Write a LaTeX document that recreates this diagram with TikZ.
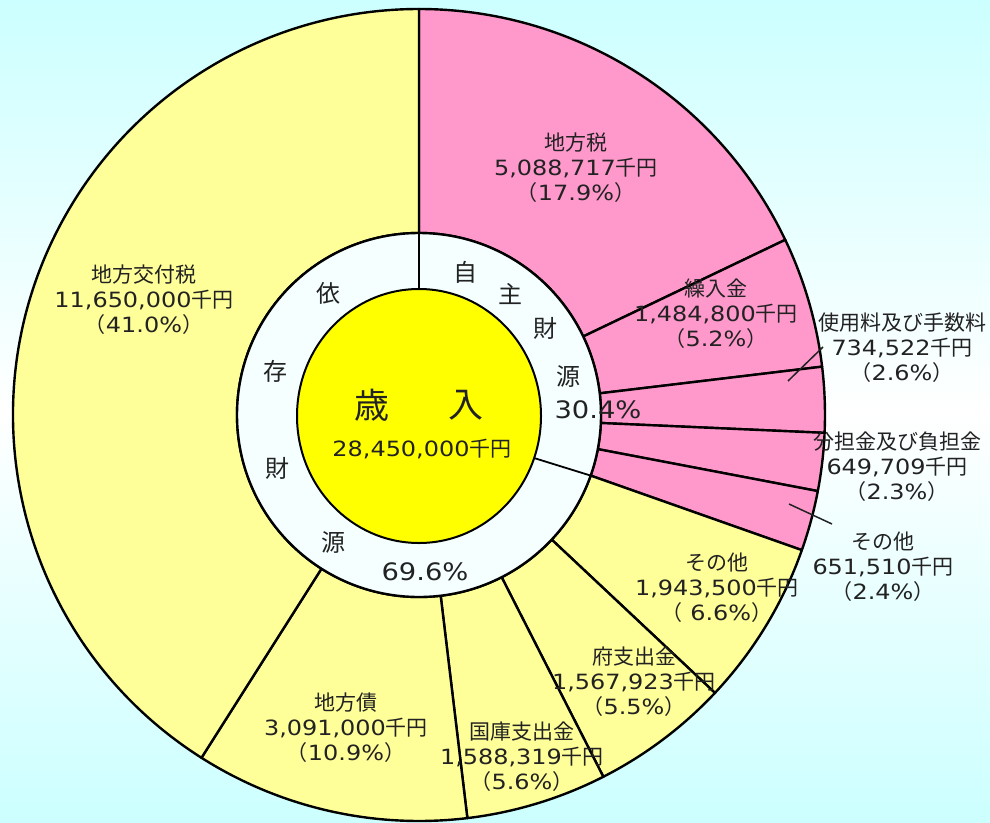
\documentclass[tikz,border=0pt]{standalone}
\usepackage{fontspec}
\newfontfamily\jpf{Noto Sans CJK JP}
\newfontfamily\numf{DejaVu Sans}[FakeStretch=1.14]
\definecolor{bgc}{HTML}{CCFFFF}
\definecolor{pinkc}{HTML}{FF99CC}
\definecolor{lyel}{HTML}{FFFF99}
\definecolor{cyel}{HTML}{FFFF00}
\definecolor{ringc}{HTML}{F5FFFF}
\definecolor{txtc}{HTML}{222222}
\newcommand\pieslice[3]{%
  \filldraw[slicestyle, fill=#3] (#1:182) -- (#1:406) arc[start angle=#1, end angle=#2, radius=406] -- (#2:182) arc[start angle=#2, end angle=#1, radius=182] -- cycle;}
\newcommand\lbltxt[3]{#1\\{\numf #2}千円\\（{\numf #3}）}
\begin{document}
\begin{tikzpicture}[x=1pt,y=-1pt,
  slicestyle/.style={draw=black, line width=2.4pt, line join=round},
  lbl/.style={font=\jpf\fontsize{21}{25}\selectfont, text=txtc, align=center, inner sep=0pt},
  ringch/.style={font=\jpf\fontsize{24}{28}\selectfont, text=txtc, inner sep=0pt},
  bigch/.style={font=\jpf\fontsize{35}{40}\selectfont, text=txtc, inner sep=0pt},
  leader/.style={draw=txtc, line width=1.5pt},
  divline/.style={draw=black, line width=1.8pt}]
\useasboundingbox (0,0) rectangle (990,822);
\shade[top color=bgc, bottom color=bgc, middle color=white] (0,0) rectangle (990,822);
\begin{scope}
\clip (0,0) rectangle (990,822);
\begin{scope}[shift={(419,415)}]
\pieslice{-90}{-25.56}{pinkc}
\pieslice{-25.56}{-6.84}{pinkc}
\pieslice{-6.84}{2.52}{pinkc}
\pieslice{2.52}{10.80}{pinkc}
\pieslice{10.80}{19.44}{pinkc}
\pieslice{19.44}{43.20}{lyel}
\pieslice{43.20}{63.00}{lyel}
\pieslice{63.00}{83.16}{lyel}
\pieslice{83.16}{122.40}{lyel}
\pieslice{122.40}{270}{lyel}
\filldraw[fill=ringc, draw=black, line width=2.4pt] (0,0) circle[radius=182];
\coordinate (rtop) at (-90:182);
\coordinate (rdiv) at (19.44:182);
\end{scope}
\filldraw[fill=cyel, draw=black, line width=2pt] (419,416) ellipse[x radius=122, y radius=127];
\coordinate (ytop) at (419,289);
\coordinate (ydiv) at (534,458);
\draw[divline, line width=1.5pt] (ytop) -- (rtop);
\draw[divline] (ydiv) -- (rdiv);
\end{scope}
% centre
\node[bigch] (sai) at (372,405) {歳};
\node[bigch] (nyu) at (466,405) {入};
\node[lbl] (total) at (422,449) {{\numf 28,450,000}千円};
% ring texts
\node[ringch] (j1) at (465,272) {自};
\node[ringch] (j2) at (510,294) {主};
\node[ringch] (j3) at (545,328) {財};
\node[ringch] (j4) at (568,376) {源};
\node[ringch] (jp) at (598,410) {\numf 30.4\%};
\node[ringch] (i1) at (328,293) {依};
\node[ringch] (i2) at (275,371) {存};
\node[ringch] (i3) at (277,468) {財};
\node[ringch] (i4) at (333,542) {源};
\node[ringch] (ip) at (425,572) {\numf 69.6\%};
% slice labels
\node[lbl] (chihozei) at (576,168) {\lbltxt{地方税}{5,088,717}{17.9\%}};
\node[lbl] (kofuzei) at (144,300) {\lbltxt{地方交付税}{11,650,000}{41.0\%}};
\node[lbl] (kuriire) at (716,314) {\lbltxt{繰入金}{1,484,800}{5.2\%}};
\node[lbl] (shiyo) at (902,348) {\lbltxt{使用料及び手数料}{734,522}{2.6\%}};
\node[lbl] (buntan) at (897,467) {\lbltxt{分担金及び負担金}{649,709}{2.3\%}};
\node[lbl] (sonota1) at (883,567) {\lbltxt{その他}{651,510}{2.4\%}};
\node[lbl] (sonota2) at (717,588) {\lbltxt{その他}{1,943,500}{ 6.6\%}};
\node[lbl] (fushi) at (634,682) {\lbltxt{府支出金}{1,567,923}{5.5\%}};
\node[lbl] (kokko) at (522,757) {\lbltxt{国庫支出金}{1,588,319}{5.6\%}};
\node[lbl] (chihosai) at (346,728) {\lbltxt{地方債}{3,091,000}{10.9\%}};
% leaders
\coordinate (l1a) at (788,381);
\coordinate (l1b) at (823,347);
\coordinate (l2a) at (789,504);
\coordinate (l2b) at (832,524);
\draw[leader] (l1a) -- (l1b);
\draw[leader] (l2a) -- (l2b);
\end{tikzpicture}
\end{document}
